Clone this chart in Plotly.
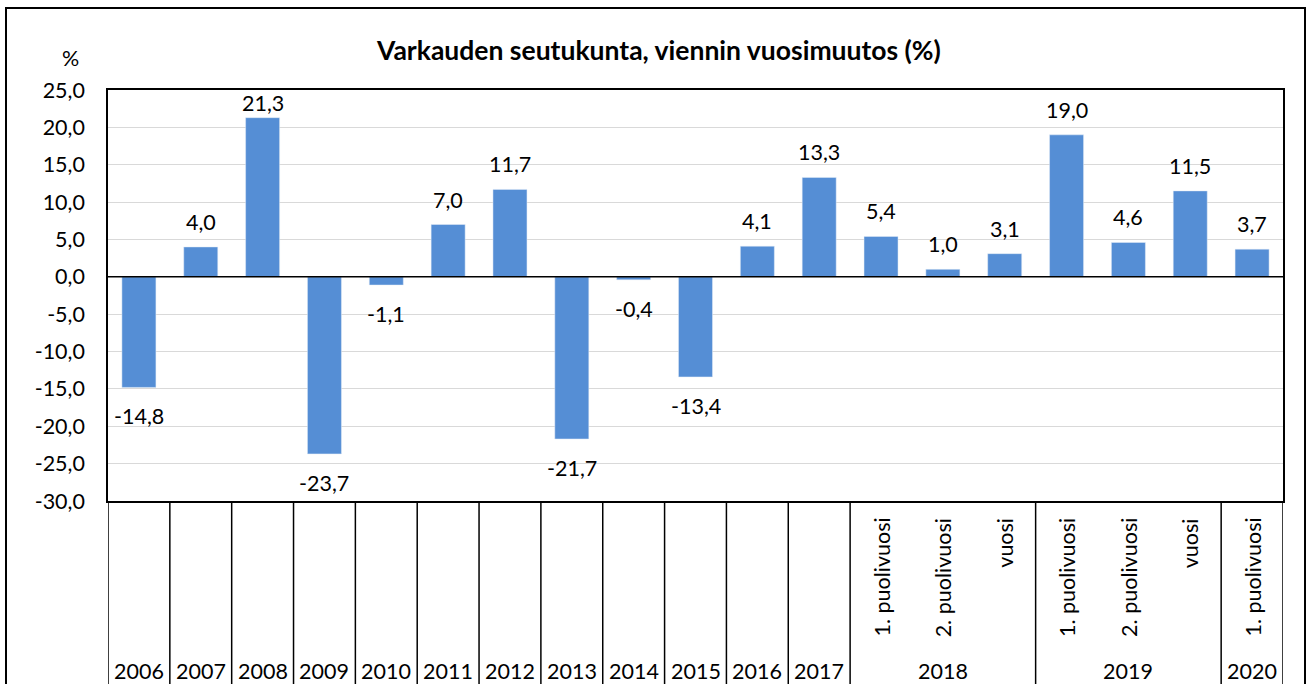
import plotly.graph_objects as go

# ---- data ----
periods = ["2006", "2007", "2008", "2009", "2010", "2011", "2012", "2013", "2014",
           "2015", "2016", "2017", "1. puolivuosi", "2. puolivuosi", "vuosi",
           "1. puolivuosi", "2. puolivuosi", "vuosi", "1. puolivuosi"]
groups = ["2006", "2007", "2008", "2009", "2010", "2011", "2012", "2013", "2014",
          "2015", "2016", "2017", "2018", "2018", "2018", "2019", "2019", "2019", "2020"]
values = [-14.8, 4.0, 21.3, -23.7, -1.1, 7.0, 11.7, -21.7, -0.4, -13.4, 4.1, 13.3,
          5.4, 1.0, 3.1, 19.0, 4.6, 11.5, 3.7]
y_ticks = [25, 20, 15, 10, 5, 0, -5, -10, -15, -20, -25, -30]
title_text = "Varkauden seutukunta, viennin vuosimuutos (%)"
unit_text = "%"

# ---- layout geometry ----
W, H = 1313, 684
L, R, T, B = 108, 1283, 90, 501          # plot area in pixels
YMIN, YMAX = -30, 25
FONT = "Lato, Calibri, Carlito, sans-serif"
FS = 21.5
BAR = "#558ED5"

def px_x(px):
    return (px - L) / (R - L)

def px_y(py):
    return (B - py) / (B - T)

def fmt(v):
    return f"{v:.1f}".replace(".", ",")

ppu = (B - T) / (YMAX - YMIN)             # pixels per unit
n = len(values)
xs = list(range(n))

fig = go.Figure(go.Bar(x=xs, y=values, marker_color=BAR, width=0.55,
                       hoverinfo="skip"))

shapes = []
# outer chart border
shapes.append(dict(type="rect", xref="paper", yref="paper",
                   x0=px_x(6), x1=px_x(1305), y0=px_y(740), y1=px_y(8),
                   line=dict(color="black", width=2), layer="below"))
# zero line
shapes.append(dict(type="line", xref="paper", yref="y", x0=0, x1=1, y0=0, y1=0,
                   line=dict(color="black", width=1.5), layer="above"))
# category separators
bounds = [-0.5] + [i - 0.5 for i in range(1, n) if groups[i] != groups[i - 1]] + [n - 0.5]
for b in bounds:
    shapes.append(dict(type="line", xref="x", yref="paper", x0=b, x1=b,
                       y0=0, y1=px_y(740), line=dict(color="black", width=1.5)))

annotations = []
# title and unit
annotations.append(dict(text=f"<b>{title_text}</b>", xref="paper", yref="paper",
                        x=px_x(658), y=px_y(50), showarrow=False,
                        xanchor="center", yanchor="middle",
                        font=dict(family=FONT, size=26.5, color="black")))
annotations.append(dict(text=unit_text, xref="paper", yref="paper",
                        x=px_x(70), y=px_y(58), showarrow=False,
                        xanchor="center", yanchor="middle",
                        font=dict(family=FONT, size=FS, color="black")))
# data labels
for i, v in enumerate(values):
    if v >= 0:
        shift = min(25, (YMAX - v) * ppu - 13)
    else:
        shift = -29
    annotations.append(dict(text=fmt(v), x=i, y=v, xref="x", yref="y",
                            yshift=shift, showarrow=False,
                            xanchor="center", yanchor="middle",
                            font=dict(family=FONT, size=FS, color="black")))
# group labels
seen = []
for g in groups:
    if g not in seen:
        seen.append(g)
for g in seen:
    idx = [i for i, gg in enumerate(groups) if gg == g]
    annotations.append(dict(text=g, x=sum(idx) / len(idx), y=px_y(671),
                            xref="x", yref="paper", showarrow=False,
                            xanchor="center", yanchor="middle",
                            font=dict(family=FONT, size=FS, color="black")))
# rotated sub-labels
for i, (p, g) in enumerate(zip(periods, groups)):
    if p != g:
        annotations.append(dict(text=p, x=i, y=px_y(516), xref="x", yref="paper",
                                showarrow=False, textangle=-90,
                                xanchor="center", yanchor="top",
                                font=dict(family=FONT, size=FS, color="black")))

fig.update_layout(
    width=W, height=H, autosize=False,
    margin=dict(l=L, r=W - R, t=T, b=H - B, pad=0),
    plot_bgcolor="white", paper_bgcolor="white",
    showlegend=False,
    shapes=shapes, annotations=annotations,
    font=dict(family=FONT, size=FS, color="black"),
)
fig.update_xaxes(range=[-0.5, n - 0.5], showticklabels=False, showgrid=False,
                 zeroline=False, showline=True, linecolor="black", linewidth=1.5,
                 mirror=True, ticks="")
fig.update_yaxes(range=[YMIN, YMAX], tickvals=y_ticks,
                 ticktext=[fmt(t) for t in y_ticks], showgrid=True,
                 gridcolor="#D9D9D9", gridwidth=1, zeroline=False,
                 showline=True, linecolor="black", linewidth=1.5, mirror=True,
                 ticks="", ticklabelstandoff=17,
                 tickfont=dict(family=FONT, size=FS, color="black"))

fig.write_html("out.html", config={"displayModeBar": False},
               post_script="document.body.style.margin='0';document.body.style.overflow='hidden';")
